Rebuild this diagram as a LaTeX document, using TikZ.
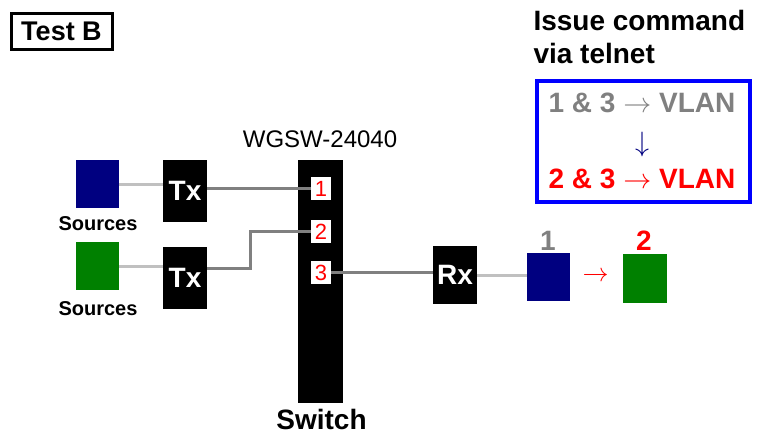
\documentclass[tikz,border=0pt]{standalone}
\usepackage{fix-cm}
\usepackage{fontspec}
\setmainfont{Liberation Sans}

\definecolor{srcnavy}{RGB}{0,0,128}
\definecolor{srcgreen}{RGB}{0,128,0}
\definecolor{wiredark}{RGB}{128,128,128}
\definecolor{wirelight}{RGB}{192,192,192}
\definecolor{cmdblue}{RGB}{0,0,255}

\begin{document}
\begin{tikzpicture}[x=1pt, y=-1pt,
  big/.style={font=\fontsize{28}{30}\selectfont\bfseries},
  unit/.style={fill=black, text=white, minimum width=44pt, minimum height=62pt, inner sep=0pt, big},
  src/.style={minimum width=43pt, minimum height=48pt, inner sep=0pt},
  port/.style={fill=white, text=red, minimum width=20pt, minimum height=23pt, inner sep=0pt, font=\fontsize{22}{22}\selectfont},
  srcname/.style={anchor=base, font=\fontsize{20}{20}\selectfont\bfseries},
  wirelt/.style={wirelight, line width=3pt},
  wiredk/.style={wiredark, line width=3pt}]
 \useasboundingbox (0,0) rectangle (761,434);

 % title and command box
 \node[draw, line width=3pt, minimum width=101pt, minimum height=36pt, inner sep=0pt,
       font=\fontsize{27}{27}\selectfont\bfseries] (title) at (61.5,31) {Test B};
 \node[big, anchor=base west] (issue) at (530,30) {Issue command};
 \node[big, anchor=base west] (telnet) at (530,63) {via telnet};
 \node[draw=cmdblue, line width=4pt, minimum width=213pt, minimum height=121pt] (cmdbox) at (643.5,141.5) {};
 \node[big, anchor=base, text=wiredark] (oldvlan) at (642,112) {1 \& 3 $\rightarrow$ VLAN};
 \node[text=srcnavy, font=\fontsize{28}{28}\selectfont] (change) at (642,144) {$\downarrow$};
 \node[big, anchor=base, text=red] (newvlan) at (642,188) {2 \& 3 $\rightarrow$ VLAN};

 % sources and transmitters
 \node[src, fill=srcnavy] (src1) at (97.5,184) {};
 \node[srcname] (srcname1) at (98,230) {Sources};
 \node[src, fill=srcgreen] (src2) at (97.5,266) {};
 \node[srcname] (srcname2) at (98,315) {Sources};
 \node[unit] (tx1) at (185,191) {Tx};
 \node[unit] (tx2) at (185,278) {Tx};

 % switch
 \node[fill=black, minimum width=45pt, minimum height=243pt, inner sep=0pt] (switch) at (320.5,281.5) {};
 \node[anchor=base, font=\fontsize{24}{24}\selectfont] (model) at (320,147) {WGSW-24040};
 \node[big, anchor=base] (switchname) at (321.5,429) {Switch};
 \node[port] (port1) at (321,188.5) {1};
 \node[port] (port2) at (321,231.5) {2};
 \node[port] (port3) at (321,272.5) {3};

 % receiver and destinations
 \node[unit, minimum height=58pt] (rx) at (455,275) {Rx};
 \node[src, fill=srcnavy] (dst1) at (548.5,277) {};
 \node[src, minimum width=44pt, minimum height=49pt, fill=srcgreen] (dst2) at (645,278.5) {};
 \node[big, anchor=base, text=wiredark] (dstname1) at (548,250) {1};
 \node[big, anchor=base, text=red] (dstname2) at (644,250) {2};
 \node[text=red, font=\fontsize{26}{26}\selectfont] (move) at (595.5,277) {$\rightarrow$};

 % wires
 \draw[wirelt] (src1.east) -- (src1.east -| tx1.west);
 \draw[wirelt] (src2.east) -- (src2.east -| tx2.west);
 \draw[wiredk] (port1.west -| tx1.east) -- (port1.west);
 \draw[wiredk] ([yshift=10pt]tx2.east) -- ++(43,0) |- (port2.west);
 \draw[wiredk] (port3.east) -- (port3.east -| rx.west);
 \draw[wirelt] (rx.east) -- (rx.east -| dst1.west);
\end{tikzpicture}
\end{document}
